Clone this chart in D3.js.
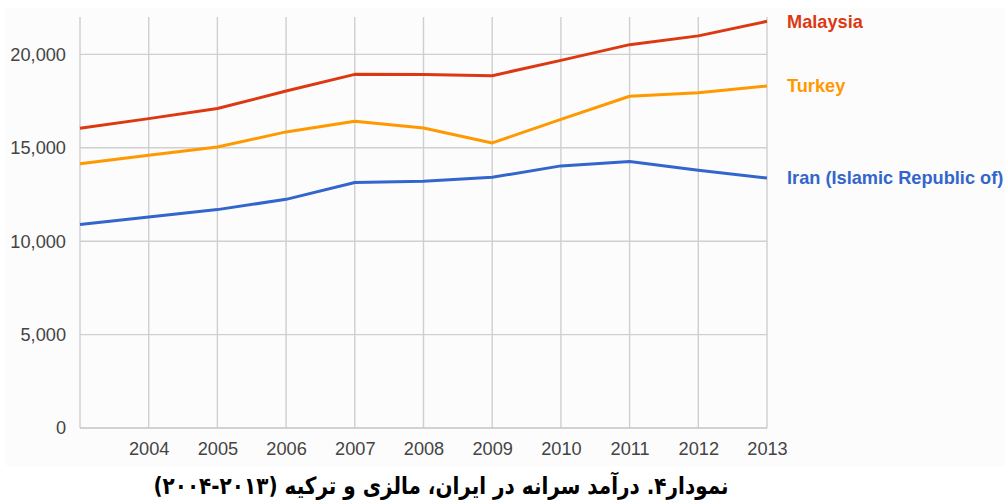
<!DOCTYPE html>
<html>
<head>
<meta charset="utf-8">
<script src="https://cdn.jsdelivr.net/npm/d3@7"></script>
<style>
  body { margin: 0; background: #fff; }
  svg { display: block; }
</style>
</head>
<body>
<svg id="chart" width="1006" height="503"></svg>
<script>
// data
const years = [2003, 2004, 2005, 2006, 2007, 2008, 2009, 2010, 2011, 2012, 2013];
const yearLabels = [2004, 2005, 2006, 2007, 2008, 2009, 2010, 2011, 2012, 2013];
const malaysia = [16050, 16560, 17100, 18040, 18930, 18920, 18860, 19680, 20520, 20990, 21770];
const turkey = [14150, 14600, 15040, 15850, 16420, 16060, 15260, 16520, 17760, 17950, 18310];
const iran = [10890, 11300, 11690, 12240, 13140, 13210, 13420, 14030, 14260, 13800, 13380];
const yTicks = [0, 5000, 10000, 15000, 20000];
const seriesNames = ["Malaysia", "Turkey", "Iran (Islamic Republic of)"];
const caption = "نمودار۴. درآمد سرانه در ایران، مالزی و ترکیه (۲۰۱۳-۲۰۰۴)";

const series = [
  { name: seriesNames[0], values: malaysia, color: "#dc3912" },
  { name: seriesNames[1], values: turkey, color: "#ff9900" },
  { name: seriesNames[2], values: iran, color: "#3366cc" }
];

const svg = d3.select("#chart");
const plot = { left: 80, right: 767, top: 17, bottom: 428 };
const font = "'Liberation Sans', Arial, sans-serif";

// faint panel behind the chart
svg.append("rect")
  .attr("x", 6).attr("y", 8)
  .attr("width", 999).attr("height", 458)
  .attr("fill", "#fcfcfc");

const x = d3.scaleLinear().domain([2003, 2013]).range([plot.left, plot.right]);
const y = d3.scaleLinear().domain([0, 22000]).range([plot.bottom, plot.top]);

// gridlines
svg.append("g")
  .selectAll("line")
  .data(years)
  .join("line")
  .attr("x1", d => x(d)).attr("x2", d => x(d))
  .attr("y1", plot.top).attr("y2", plot.bottom)
  .attr("stroke", "#cfcfcf")
  .attr("stroke-width", 1.4);

svg.append("g")
  .selectAll("line")
  .data(yTicks)
  .join("line")
  .attr("x1", plot.left).attr("x2", plot.right)
  .attr("y1", d => y(d)).attr("y2", d => y(d))
  .attr("stroke", d => d === 0 ? "#c4c4c4" : "#cfcfcf")
  .attr("stroke-width", 1.4);

// axes (labels only)
const xAxis = svg.append("g")
  .attr("transform", `translate(0,${plot.bottom})`)
  .call(d3.axisBottom(x).tickValues(yearLabels).tickFormat(d3.format("d")).tickSize(0).tickPadding(14));

const yAxis = svg.append("g")
  .attr("transform", `translate(${plot.left},0)`)
  .call(d3.axisLeft(y).tickValues(yTicks).tickFormat(d3.format(",")).tickSize(0).tickPadding(14));

[xAxis, yAxis].forEach(a => {
  a.select(".domain").remove();
  a.selectAll("text")
    .attr("fill", "#444")
    .style("font-family", font)
    .style("font-size", "18.2px");
});

// lines
const line = d3.line()
  .x((d, i) => x(years[i]))
  .y(d => y(d));

svg.append("g")
  .selectAll("path")
  .data(series)
  .join("path")
  .attr("d", d => line(d.values))
  .attr("fill", "none")
  .attr("stroke", d => d.color)
  .attr("stroke-width", 3)
  .attr("stroke-linejoin", "round");

// labels at line ends
svg.append("g")
  .selectAll("text")
  .data(series)
  .join("text")
  .attr("x", plot.right + 20)
  .attr("y", d => y(d.values[d.values.length - 1]))
  .attr("dy", "0.35em")
  .attr("fill", d => d.color)
  .style("font-family", font)
  .style("font-weight", "bold")
  .style("font-size", "18.2px")
  .text(d => d.name);

// caption, stretched a little to match the taller original face
svg.append("text")
  .attr("transform", "translate(441,494) scale(1,1.18)")
  .attr("text-anchor", "middle")
  .attr("direction", "rtl")
  .style("unicode-bidi", "embed")
  .style("font-family", "'DejaVu Sans', sans-serif")
  .style("font-weight", "bold")
  .style("font-size", "20px")
  .attr("fill", "#000")
  .text(caption);
</script>
</body>
</html>
